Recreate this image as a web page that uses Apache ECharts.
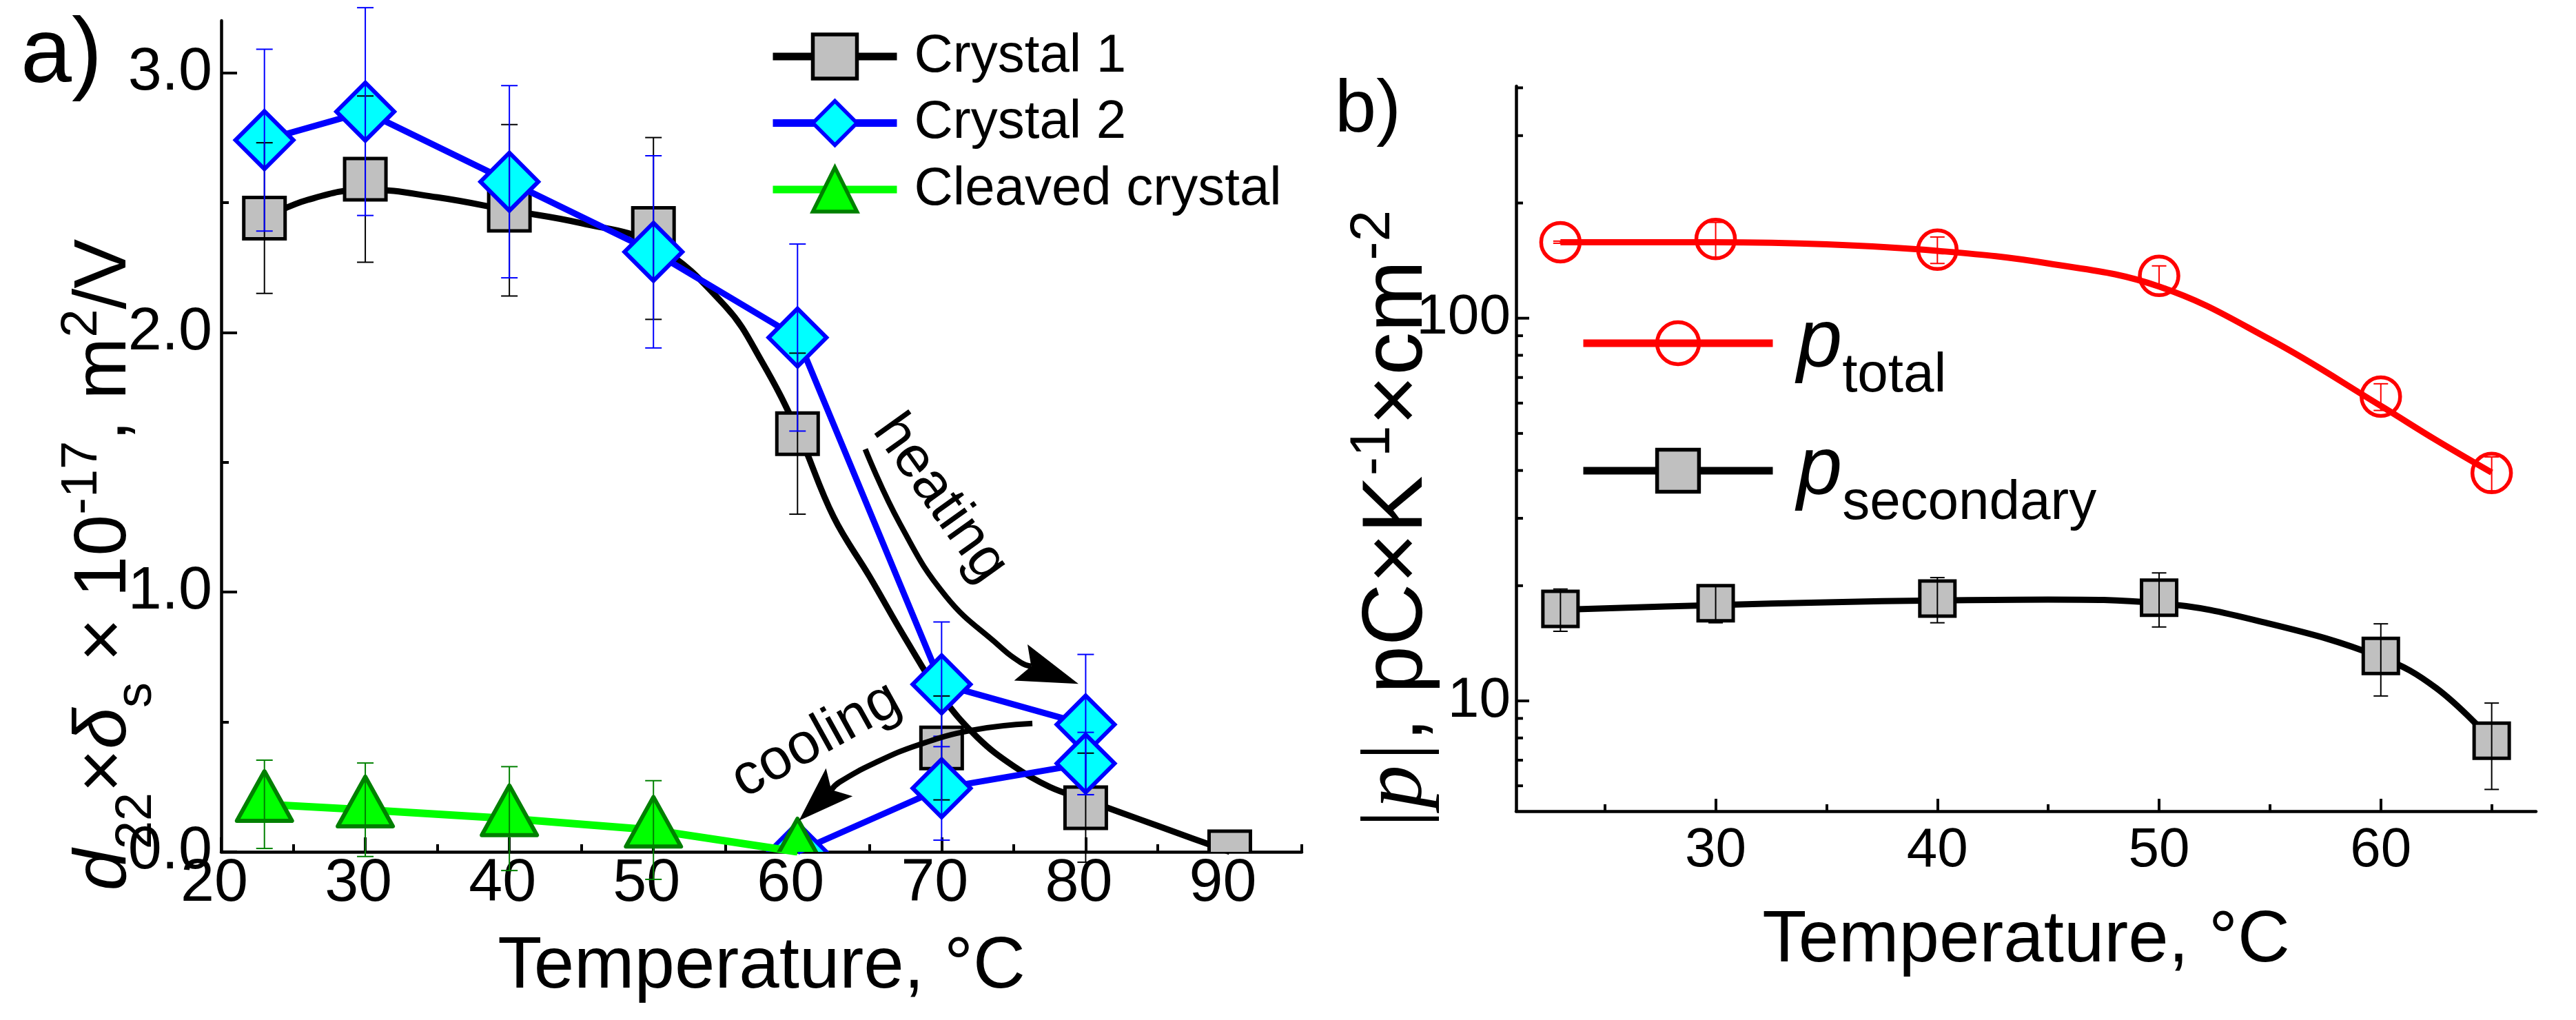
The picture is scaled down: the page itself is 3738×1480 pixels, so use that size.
<!DOCTYPE html>
<html><head><meta charset="utf-8">
<script src="https://cdn.jsdelivr.net/npm/echarts@6/dist/echarts.min.js"></script>
<style>html,body{margin:0;padding:0;background:#fff}#c{width:3738px;height:1480px}</style>
</head><body><div id="c"></div>
<script>
// ===== Panel a data =====
const crystal1Temp = [23, 30, 40, 50, 60, 70, 80, 90];
const crystal1Val  = [2.44, 2.59, 2.47, 2.40, 1.61, 0.40, 0.17, 0.0];
const crystal1Err  = [0.29, 0.32, 0.33, 0.35, 0.31, 0.20, 0.21, 0];
const crystal1FitTemp = [23, 26, 30, 35, 40, 45, 50, 55, 57.5, 60, 62.5, 65, 67.5, 70, 72.5, 75, 77.5, 80, 82.5, 85, 87.5, 90];
const crystal1FitVal  = [2.44, 2.51, 2.55, 2.52, 2.47, 2.42, 2.34, 2.10, 1.89, 1.62, 1.29, 1.06, 0.82, 0.60, 0.44, 0.33, 0.25, 0.20, 0.15, 0.10, 0.05, 0.0];
const crystal2HeatTemp = [23, 30, 40, 50, 60, 70, 80];
const crystal2HeatVal  = [2.74, 2.85, 2.58, 2.31, 1.98, 0.645, 0.49];
const crystal2HeatErr  = [0.35, 0.40, 0.37, 0.37, 0.36, 0.24, 0.27];
const crystal2CoolTemp = [80, 70, 60];
const crystal2CoolVal  = [0.34, 0.245, 0.0];
const crystal2CoolErr  = [0.12, 0.20, 0];
const cleavedTemp = [23, 30, 40, 50, 60];
const cleavedVal  = [0.183, 0.162, 0.128, 0.084, 0.0];
const cleavedErr  = [0.17, 0.18, 0.20, 0.19, 0];
const aXTicks = [20, 30, 40, 50, 60, 70, 80, 90];
const aXMinorTicks = [25, 35, 45, 55, 65, 75, 85, 95];
const aYTicks = [0, 1, 2, 3];
const aYMinorTicks = [0.5, 1.5, 2.5];
// annotations (data coordinates of panel a)
const heatingArrowPath = [[64.7, 1.55], [67.1, 1.264], [70.3, 0.984], [74.0, 0.793], [75.5, 0.729]];
const heatingArrowTip = [79.5, 0.647];
const coolingArrowPath = [[76.3, 0.494], [72.1, 0.468], [68.4, 0.412], [65.4, 0.343], [62.9, 0.268]];
const coolingArrowTip = [60.1, 0.12];
const heatingLabelPos = [69.9, 1.36];
const coolingLabelPos = [61.3, 0.43];

// ===== Panel b data =====
const bTemp = [23, 30, 40, 50, 60, 65];
const pTotal = [158, 161, 151, 129, 62.4, 39.4];
const pTotalErr = [1, 17, 12, 8, 5, 4];
const pSecondary = [17.4, 18.0, 18.5, 18.6, 13.1, 7.87];
const pSecondaryErr = [2.2, 2.0, 2.5, 3.0, 2.8, 2.0];
const pTotalFitTemp = [23, 30, 35, 40, 45, 50, 55, 60, 62.5, 65];
const pTotalFitVal  = [158, 158, 156, 150, 139, 121, 88, 59, 48, 39.5];
const pSecFitTemp = [23, 30, 35, 40, 45, 50, 55, 60, 62.5, 65];
const pSecFitVal  = [17.3, 17.8, 18.1, 18.3, 18.4, 18.0, 15.9, 13.0, 10.8, 7.9];
const bXTicks = [30, 40, 50, 60];
const bXMinorTicks = [25, 35, 45, 55, 65];
const bYTicks = [10, 100];
const bYMinorTicks = [6, 7, 8, 9, 20, 30, 40, 50, 60, 70, 80, 90, 200, 300, 400];
const bXMin = 21, bXMax = 67, bYMin = 5.15, bYMax = 404;

const FONT = "'Liberation Sans', Arial, Helvetica, sans-serif";
const SERIF = "'Liberation Serif', 'Times New Roman', serif";
const zip = (a, b) => a.map((x, i) => [x, b[i]]);

const SHAPES = {
  squareA: p => ({type: 'rect', shape: {x: p[0] - 30, y: p[1] - 30, width: 60, height: 60}, style: {fill: '#c0c0c0', stroke: '#000', lineWidth: 5}}),
  diamond: p => ({type: 'polygon', shape: {points: [[p[0], p[1] - 42], [p[0] + 42, p[1]], [p[0], p[1] + 42], [p[0] - 42, p[1]]]}, style: {fill: '#00ffff', stroke: '#0000ff', lineWidth: 6}}),
  triangle: p => ({type: 'polygon', shape: {points: [[p[0], p[1] - 48], [p[0] + 40, p[1] + 24], [p[0] - 40, p[1] + 24]]}, style: {fill: '#00ff00', stroke: '#008000', lineWidth: 6, lineJoin: 'round'}}),
  circle: p => ({type: 'circle', shape: {cx: p[0], cy: p[1], r: 28}, style: {fill: 'none', stroke: '#ff0000', lineWidth: 5.5}}),
  squareB: p => ({type: 'rect', shape: {x: p[0] - 25.5, y: p[1] - 25.5, width: 51, height: 51}, style: {fill: '#c0c0c0', stroke: '#000', lineWidth: 5}})
};

function markSeries(xi, yi, xs, ys, kind, z) {
  return {type: 'custom', xAxisIndex: xi, yAxisIndex: yi, clip: true, silent: true, z: z,
    data: zip(xs, ys),
    renderItem: (params, api) => SHAPES[kind](api.coord([api.value(0), api.value(1)]))};
}
function errSeries(xi, yi, xs, ys, es, color, cap) {
  return {type: 'custom', xAxisIndex: xi, yAxisIndex: yi, clip: false, silent: true, z: 8,
    data: xs.map((x, i) => [x, ys[i], es[i]]).filter(d => d[2] > 0),
    renderItem: (params, api) => {
      const x = api.value(0), y = api.value(1), e = api.value(2);
      const t = api.coord([x, y + e]), b = api.coord([x, y - e]), h = cap / 2;
      const st = {stroke: color, lineWidth: 2};
      return {type: 'group', children: [
        {type: 'line', shape: {x1: t[0], y1: t[1], x2: b[0], y2: b[1]}, style: st},
        {type: 'line', shape: {x1: t[0] - h, y1: t[1], x2: t[0] + h, y2: t[1]}, style: st},
        {type: 'line', shape: {x1: b[0] - h, y1: b[1], x2: b[0] + h, y2: b[1]}, style: st}
      ]};
    }};
}
function arrow(api, path, tip) {
  const pp = path.map(p => api.coord(p));
  const t = api.coord(tip), b = pp[pp.length - 1];
  const dx = t[0] - b[0], dy = t[1] - b[1], L = Math.hypot(dx, dy);
  const ux = dx / L, uy = dy / L, nx = -uy, ny = ux, hw = 28;
  const notch = [b[0] + ux * 16, b[1] + uy * 16];
  return [
    {type: 'polyline', shape: {points: pp.concat([notch]), smooth: 0.45}, style: {stroke: '#000', lineWidth: 8, fill: 'none'}},
    {type: 'polygon', shape: {points: [t, [b[0] + nx * hw, b[1] + ny * hw], notch, [b[0] - nx * hw, b[1] - ny * hw]]}, style: {fill: '#000'}}
  ];
}
function label(api, pos, text, rot) {
  const p = api.coord(pos);
  return {type: 'text', x: p[0], y: p[1], rotation: rot, style: {text: text, fontSize: 84, fontFamily: FONT, fill: '#000', align: 'center', verticalAlign: 'middle'}};
}

const axisLine = {show: true, onZero: false, lineStyle: {color: '#000', width: 4.5}};
const noSplit = {show: false};

const chart = echarts.init(document.getElementById('c'), null, {renderer: 'canvas', width: 3738, height: 1480});
chart.setOption({
  animation: false,
  backgroundColor: '#fff',
  textStyle: {fontFamily: FONT, color: '#000'},
  grid: [
    {left: 321, top: 30, width: 1568, height: 1206, containLabel: false, outerBoundsMode: 'none'},
    {left: 2200, top: 125, width: 1480, height: 1052, containLabel: false, outerBoundsMode: 'none'}
  ],
  xAxis: [
    {type: 'value', gridIndex: 0, min: 20, max: 95, position: 'bottom', axisLine: axisLine, splitLine: noSplit,
     axisTick: {show: true, inside: true, length: 21, customValues: aXTicks, lineStyle: {color: '#000', width: 4}},
     axisLabel: {show: true, customValues: aXTicks, fontSize: 88, fontFamily: FONT, color: '#000', margin: 3, padding: [0, 20, 0, 0]},
     name: 'Temperature, °C', nameLocation: 'middle', nameGap: 116, nameMoveOverlap: false,
     nameTextStyle: {fontSize: 105, fontFamily: FONT, color: '#000'}},
    {type: 'value', gridIndex: 0, min: 20, max: 95, position: 'bottom', axisLine: {show: false}, splitLine: noSplit,
     axisTick: {show: true, inside: true, length: 11, customValues: aXMinorTicks, lineStyle: {color: '#000', width: 4}},
     axisLabel: {show: false}},
    {type: 'value', gridIndex: 1, min: bXMin, max: bXMax, position: 'bottom', axisLine: axisLine, splitLine: noSplit,
     axisTick: {show: true, inside: true, length: 18, customValues: bXTicks, lineStyle: {color: '#000', width: 4}},
     axisLabel: {show: true, customValues: bXTicks, fontSize: 80, fontFamily: FONT, color: '#000', margin: 18},
     name: 'Temperature, °C', nameLocation: 'middle', nameGap: 137, nameMoveOverlap: false,
     nameTextStyle: {fontSize: 105, fontFamily: FONT, color: '#000'}},
    {type: 'value', gridIndex: 1, min: bXMin, max: bXMax, position: 'bottom', axisLine: {show: false}, splitLine: noSplit,
     axisTick: {show: true, inside: true, length: 10, customValues: bXMinorTicks, lineStyle: {color: '#000', width: 4}},
     axisLabel: {show: false}}
  ],
  yAxis: [
    {type: 'value', gridIndex: 0, min: 0, max: 3.2, position: 'left', axisLine: axisLine, splitLine: noSplit,
     axisTick: {show: true, inside: true, length: 23, customValues: aYTicks, lineStyle: {color: '#000', width: 4}},
     axisLabel: {show: true, customValues: aYTicks, formatter: v => Number(v).toFixed(1), fontSize: 88, fontFamily: FONT, color: '#000', margin: 13, padding: [0, 0, 26, 0]},
     name: '{i|d}{sub|22}{n|×}{i|δ}{sub|s}{n| × 10}{sup|-17}{n|, m}{sup|2}{n|/V}',
     nameLocation: 'middle', nameRotate: 90, nameGap: 130, nameMoveOverlap: false,
     nameTextStyle: {fontSize: 108, fontFamily: FONT, color: '#000', padding: [0, 373, 0, 0], rich: {
       n: {fontSize: 108, fontFamily: FONT, color: '#000', lineHeight: 108, padding: [15, 0, 0, 0], verticalAlign: 'top'},
       i: {fontSize: 108, fontFamily: FONT, fontStyle: 'italic', color: '#000', lineHeight: 108, padding: [15, 0, 0, 0], verticalAlign: 'top'},
       sub: {fontSize: 74, fontFamily: FONT, color: '#000', lineHeight: 74, padding: [79, 0, 0, 0], verticalAlign: 'top'},
       sup: {fontSize: 74, fontFamily: FONT, color: '#000', lineHeight: 74, padding: [0, 0, 0, 0], verticalAlign: 'top'}
     }}},
    {type: 'value', gridIndex: 0, min: 0, max: 3.2, position: 'left', axisLine: {show: false}, splitLine: noSplit,
     axisTick: {show: true, inside: true, length: 11, customValues: aYMinorTicks, lineStyle: {color: '#000', width: 4}},
     axisLabel: {show: false}},
    {type: 'log', logBase: 10, gridIndex: 1, min: bYMin, max: bYMax, position: 'left', axisLine: axisLine, splitLine: noSplit,
     axisTick: {show: false}, minorTick: {show: false},
     axisLabel: {show: true, fontSize: 82, fontFamily: FONT, color: '#000', margin: 8, padding: [0, 0, 19, 0],
       formatter: v => { const t = bYTicks.find(t => Math.abs(v - t) < 1e-6 * t); return t ? String(t) : ''; }},
     name: '{ser||p|}{n|, pC×K}{sup|-1}{n|×cm}{sup|-2}',
     nameLocation: 'middle', nameRotate: 90, nameGap: 123, nameMoveOverlap: false,
     nameTextStyle: {fontSize: 125, fontFamily: FONT, color: '#000', padding: [0, 210, 0, 0], rich: {
       ser: {fontSize: 125, fontFamily: SERIF, fontStyle: 'italic', color: '#000', lineHeight: 125, padding: [14, 0, 0, 0], verticalAlign: 'top'},
       n: {fontSize: 125, fontFamily: FONT, color: '#000', lineHeight: 125, padding: [14, 0, 0, 0], verticalAlign: 'top'},
       sup: {fontSize: 82, fontFamily: FONT, color: '#000', lineHeight: 82, padding: [0, 0, 0, 0], verticalAlign: 'top'}
     }}}
  ],
  legend: [
    {orient: 'vertical', left: 1116, top: 43, padding: 0, itemWidth: 180, itemHeight: 80, itemGap: 18.5, selectedMode: false,
     data: ['Crystal 1', 'Crystal 2', 'Cleaved crystal'],
     textStyle: {fontSize: 78, fontFamily: FONT, color: '#000', padding: [0, 0, 0, 20]},
     lineStyle: {width: 11}, itemStyle: {borderWidth: 5.5}},
    {orient: 'vertical', left: 2292, top: 438, padding: 0, itemWidth: 275, itemHeight: 76, itemGap: 37, selectedMode: false,
     data: ['ptotal', 'psecondary'],
     formatter: name => name === 'ptotal' ? '{p|p}{s|total}' : '{p|p}{s|secondary}',
     textStyle: {color: '#000', fontFamily: FONT, padding: [0, 0, 0, 30], rich: {
       p: {fontSize: 118, fontFamily: FONT, fontStyle: 'italic', color: '#000', lineHeight: 120, padding: [1, 0, 0, 0], verticalAlign: 'top'},
       s: {fontSize: 80, fontFamily: FONT, color: '#000', lineHeight: 80, padding: [68, 0, 0, 0], verticalAlign: 'top'}
     }},
     lineStyle: {width: 11}, itemStyle: {borderWidth: 5.5}}
  ],
  graphic: [
    {type: 'text', x: 30, y: 82, style: {text: 'a)', fontSize: 133, fontFamily: FONT, fill: '#000', align: 'left', verticalAlign: 'middle'}},
    {type: 'text', x: 1937, y: 161, style: {text: 'b)', fontSize: 108, fontFamily: FONT, fill: '#000', align: 'left', verticalAlign: 'middle'}}
  ],
  series: [
    // panel a
    {type: 'line', name: 'Crystal 1', xAxisIndex: 0, yAxisIndex: 0, data: zip(crystal1FitTemp, crystal1FitVal), smooth: 0.4,
     showSymbol: false, symbol: 'rect', silent: true, z: 2,
     itemStyle: {color: '#c0c0c0', borderColor: '#000', borderWidth: 5}, lineStyle: {color: '#000', width: 9}},
    markSeries(0, 0, crystal1Temp, crystal1Val, 'squareA', 3),
    {type: 'line', name: 'Crystal 2', xAxisIndex: 0, yAxisIndex: 0, data: zip(crystal2HeatTemp, crystal2HeatVal),
     showSymbol: false, symbol: 'diamond', silent: true, z: 4,
     itemStyle: {color: '#00ffff', borderColor: '#0000ff', borderWidth: 6}, lineStyle: {color: '#0000ff', width: 9}},
    {type: 'line', name: 'Crystal 2', xAxisIndex: 0, yAxisIndex: 0, data: zip(crystal2CoolTemp, crystal2CoolVal),
     showSymbol: false, symbol: 'diamond', silent: true, z: 4,
     itemStyle: {color: '#00ffff', borderColor: '#0000ff', borderWidth: 6}, lineStyle: {color: '#0000ff', width: 9}},
    markSeries(0, 0, crystal2HeatTemp, crystal2HeatVal, 'diamond', 5),
    markSeries(0, 0, crystal2CoolTemp, crystal2CoolVal, 'diamond', 5),
    {type: 'line', name: 'Cleaved crystal', xAxisIndex: 0, yAxisIndex: 0, data: zip(cleavedTemp, cleavedVal),
     showSymbol: false, symbol: 'triangle', silent: true, z: 6,
     itemStyle: {color: '#00ff00', borderColor: '#008000', borderWidth: 6}, lineStyle: {color: '#00ff00', width: 11}},
    markSeries(0, 0, cleavedTemp, cleavedVal, 'triangle', 7),
    errSeries(0, 0, crystal1Temp, crystal1Val, crystal1Err, '#000', 24),
    errSeries(0, 0, crystal2HeatTemp, crystal2HeatVal, crystal2HeatErr, '#0000ff', 24),
    errSeries(0, 0, crystal2CoolTemp, crystal2CoolVal, crystal2CoolErr, '#0000ff', 24),
    errSeries(0, 0, cleavedTemp, cleavedVal, cleavedErr, '#008000', 24),
    {type: 'custom', xAxisIndex: 0, yAxisIndex: 0, clip: false, silent: true, z: 9, data: [[20, 0]],
     renderItem: (params, api) => ({type: 'group', children: [].concat(
       arrow(api, heatingArrowPath, heatingArrowTip),
       arrow(api, coolingArrowPath, coolingArrowTip),
       [label(api, heatingLabelPos, 'heating', -0.95), label(api, coolingLabelPos, 'cooling', 0.506)]
     )})},
    // panel b
    {type: 'line', name: 'ptotal', xAxisIndex: 2, yAxisIndex: 2, data: zip(pTotalFitTemp, pTotalFitVal), smooth: 0.4,
     showSymbol: false, symbol: 'circle', silent: true, z: 2,
     itemStyle: {color: 'rgba(255,255,255,0)', borderColor: '#ff0000', borderWidth: 5.5}, lineStyle: {color: '#ff0000', width: 9}},
    markSeries(2, 2, bTemp, pTotal, 'circle', 3),
    {type: 'line', name: 'psecondary', xAxisIndex: 2, yAxisIndex: 2, data: zip(pSecFitTemp, pSecFitVal), smooth: 0.4,
     showSymbol: false, symbol: 'rect', silent: true, z: 2,
     itemStyle: {color: '#c0c0c0', borderColor: '#000', borderWidth: 5}, lineStyle: {color: '#000', width: 9}},
    markSeries(2, 2, bTemp, pSecondary, 'squareB', 3),
    errSeries(2, 2, bTemp, pTotal, pTotalErr, '#ff0000', 21),
    errSeries(2, 2, bTemp, pSecondary, pSecondaryErr, '#000', 21),
    {type: 'custom', xAxisIndex: 2, yAxisIndex: 2, clip: false, silent: true, z: 1,
     data: bYTicks.map(v => [bXMin, v, 19]).concat(bYMinorTicks.map(v => [bXMin, v, 10])),
     renderItem: (params, api) => {
       const p = api.coord([api.value(0), api.value(1)]);
       return {type: 'line', shape: {x1: p[0], y1: p[1], x2: p[0] + api.value(2), y2: p[1]}, style: {stroke: '#000', lineWidth: 4}};
     }}
  ]
});
</script></body></html>
